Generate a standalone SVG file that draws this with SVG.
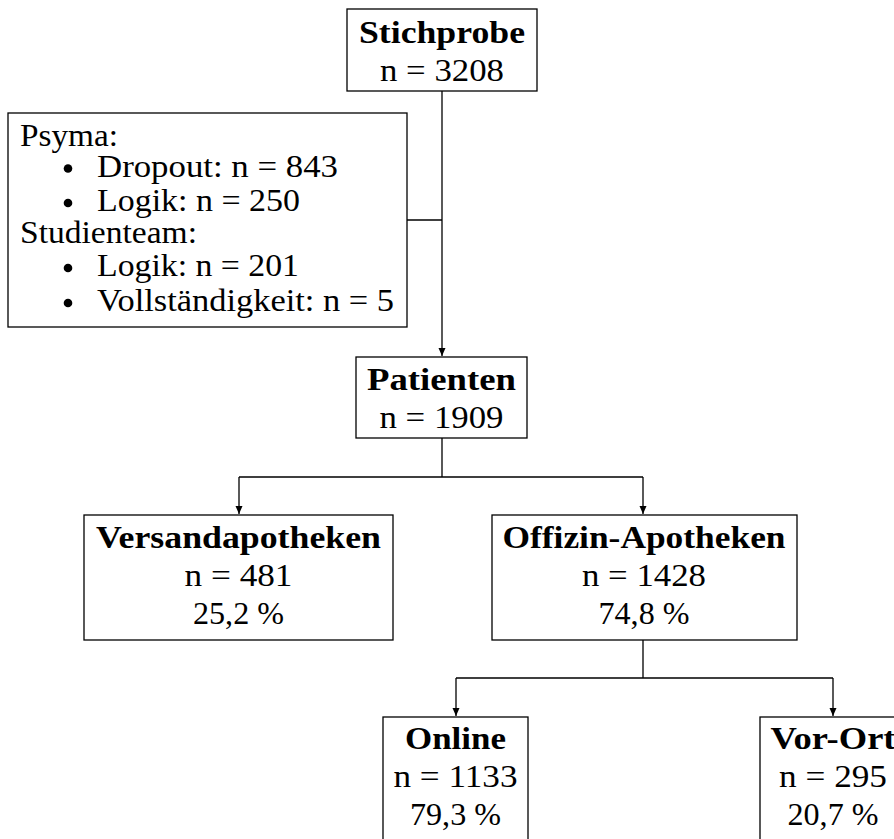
<svg xmlns="http://www.w3.org/2000/svg" width="894" height="839" viewBox="0 0 894 839">
<style>
.box{fill:#fff;stroke:#000;stroke-width:1.3}
.t{font-family:"Liberation Serif","Times New Roman",serif;font-size:31px;fill:#000}
.b{font-weight:bold}
.c{text-anchor:middle}
.e{stroke:#000;stroke-width:1.3;fill:none}
.dot{fill:#000}
</style>
<defs>
<marker id="arr" markerUnits="userSpaceOnUse" markerWidth="9" markerHeight="8" refX="8" refY="3.5" orient="auto">
<path d="M0,0 L8,3.5 L0,7 z" fill="#000"/>
</marker>
</defs>
<rect width="894" height="839" fill="#fff"/>
<g id="connectors">
<path class="e" d="M442,91 V356" marker-end="url(#arr)"/>
<path class="e" d="M407,220 H442"/>
<path class="e" d="M442,438 V477 M239,477 H643"/>
<path class="e" d="M239,477 V514" marker-end="url(#arr)"/>
<path class="e" d="M643,477 V514" marker-end="url(#arr)"/>
<path class="e" d="M643,640 V678 M456,678 H833"/>
<path class="e" d="M456,678 V716" marker-end="url(#arr)"/>
<path class="e" d="M833,678 V716" marker-end="url(#arr)"/>
</g>
<g id="stichprobe">
<rect class="box" x="347" y="9" width="190" height="82"/>
<text class="t b c" x="442" y="43" textLength="166" lengthAdjust="spacingAndGlyphs">Stichprobe</text>
<text class="t c" x="442" y="81" textLength="124" lengthAdjust="spacingAndGlyphs">n = 3208</text>
</g>
<g id="ausschluss">
<rect class="box" x="8" y="113" width="399" height="214"/>
<text class="t" x="20" y="146" textLength="98" lengthAdjust="spacingAndGlyphs">Psyma:</text>
<circle class="dot" cx="68" cy="168.5" r="4.3"/>
<text class="t" x="97" y="176.5" textLength="241" lengthAdjust="spacingAndGlyphs">Dropout: n = 843</text>
<circle class="dot" cx="68" cy="203" r="4.3"/>
<text class="t" x="97" y="211" textLength="203" lengthAdjust="spacingAndGlyphs">Logik: n = 250</text>
<text class="t" x="20" y="242.5" textLength="177" lengthAdjust="spacingAndGlyphs">Studienteam:</text>
<circle class="dot" cx="68" cy="268" r="4.3"/>
<text class="t" x="97" y="276" textLength="202" lengthAdjust="spacingAndGlyphs">Logik: n = 201</text>
<circle class="dot" cx="68" cy="303" r="4.3"/>
<text class="t" x="97" y="311" textLength="297" lengthAdjust="spacingAndGlyphs">Vollständigkeit: n = 5</text>
</g>
<g id="patienten">
<rect class="box" x="356" y="357" width="171" height="81"/>
<text class="t b c" x="441.5" y="390" textLength="149" lengthAdjust="spacingAndGlyphs">Patienten</text>
<text class="t c" x="441.5" y="428" textLength="124" lengthAdjust="spacingAndGlyphs">n = 1909</text>
</g>
<g id="versand">
<rect class="box" x="84" y="515" width="309" height="125"/>
<text class="t b c" x="238.5" y="548" textLength="285" lengthAdjust="spacingAndGlyphs">Versandapotheken</text>
<text class="t c" x="238.5" y="586" textLength="108" lengthAdjust="spacingAndGlyphs">n = 481</text>
<text class="t c" x="238.5" y="623.5" textLength="91" lengthAdjust="spacingAndGlyphs">25,2 %</text>
</g>
<g id="offizin">
<rect class="box" x="492" y="515" width="305" height="125"/>
<text class="t b c" x="644" y="548" textLength="283" lengthAdjust="spacingAndGlyphs">Offizin-Apotheken</text>
<text class="t c" x="644" y="586" textLength="124" lengthAdjust="spacingAndGlyphs">n = 1428</text>
<text class="t c" x="644" y="623.5" textLength="91" lengthAdjust="spacingAndGlyphs">74,8 %</text>
</g>
<g id="online">
<rect class="box" x="383" y="717" width="145" height="125"/>
<text class="t b c" x="455.5" y="749" textLength="101" lengthAdjust="spacingAndGlyphs">Online</text>
<text class="t c" x="455.5" y="787" textLength="124" lengthAdjust="spacingAndGlyphs">n = 1133</text>
<text class="t c" x="455.5" y="824.5" textLength="91" lengthAdjust="spacingAndGlyphs">79,3 %</text>
</g>
<g id="vorort">
<rect class="box" x="760" y="717" width="147" height="125"/>
<text class="t b c" x="833" y="749" textLength="125" lengthAdjust="spacingAndGlyphs">Vor-Ort</text>
<text class="t c" x="833" y="787" textLength="108" lengthAdjust="spacingAndGlyphs">n = 295</text>
<text class="t c" x="833" y="824.5" textLength="91" lengthAdjust="spacingAndGlyphs">20,7 %</text>
</g>
</svg>
